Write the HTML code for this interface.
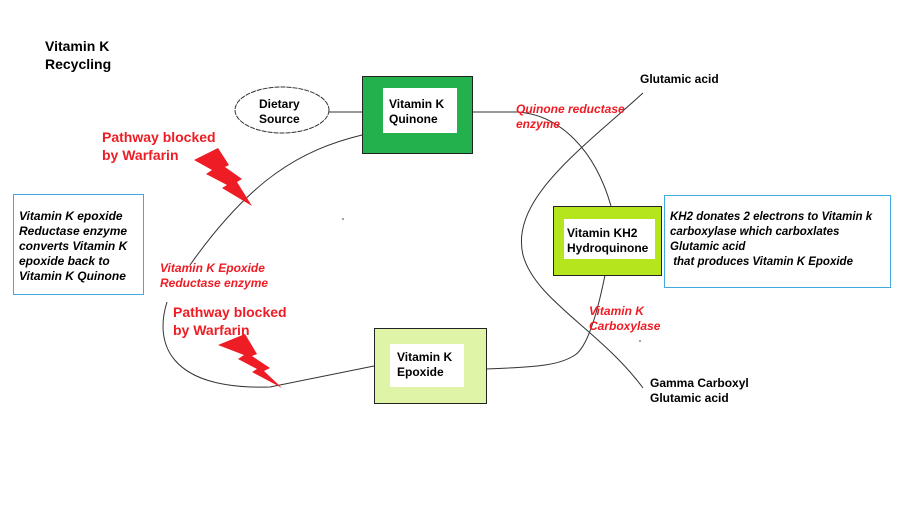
<!DOCTYPE html>
<html><head><style>
body{margin:0;background:#fff;width:921px;height:518px;overflow:hidden;position:relative;font-family:"Liberation Sans",Arial,sans-serif}
.t{position:absolute;font-size:12px;font-weight:bold;line-height:15px;white-space:nowrap}
.r{color:#ee1c24}
.i{font-style:italic}
</style></head><body>
<svg width="921" height="518" style="position:absolute;left:0;top:0">
<g fill="none" stroke="#333" stroke-width="1">
<line x1="329" y1="112" x2="362" y2="112"/>
<path d="M472,112 L518,112 C560,115 595,150 611,206"/>
<path d="M362,135 C300,150 250,180 190,265"/>
<path d="M167,302 C155,340 165,390 270,387 L374,366"/>
<path d="M486,369 C540,367 560,365 575,355 C590,345 600,300 605,275"/>
<path d="M643,93 C580,150 510,200 523,255 C535,300 600,330 643,388"/>
</g>
<ellipse cx="282" cy="110" rx="47" ry="23" fill="#fff" stroke="#333" stroke-dasharray="5,1"/>
<rect x="362.5" y="76.5" width="110" height="77" fill="#22b14c" stroke="#222"/>
<rect x="383" y="88" width="74" height="45" fill="#fff"/>
<rect x="553.5" y="206.5" width="108" height="69" fill="#b5e61d" stroke="#222"/>
<rect x="564" y="219" width="91" height="40" fill="#fff"/>
<rect x="374.5" y="328.5" width="112" height="75" fill="#e0f4a8" stroke="#222"/>
<rect x="390" y="344" width="74" height="43" fill="#fff"/>
<rect x="13.5" y="194.5" width="130" height="100" fill="#fff" stroke="#3fa9e0"/>
<rect x="664.5" y="195.5" width="226" height="92" fill="#fff" stroke="#3fa9e0"/>
<polygon fill="#ee1c24" points="194,160 218,148 229,165 225,167 242,179 237,182 252,206 222,188 227,185 206,174 212,170"/>
<polygon fill="#ee1c24" points="218,345 245,334 257,354 252,356 270,368 264,371 282,388 252,372 257,369 238,359 244,355"/>
<circle cx="343" cy="219" r="0.8" fill="#333"/>
<circle cx="640" cy="341" r="0.8" fill="#333"/>
</svg>
<div class="t" style="left:45px;top:37px;font-size:14px;line-height:18px">Vitamin K<br>Recycling</div>
<div class="t" style="left:259px;top:97px">Dietary<br>Source</div>
<div class="t" style="left:389px;top:97px">Vitamin K<br>Quinone</div>
<div class="t" style="left:567px;top:226px">Vitamin KH2<br>Hydroquinone</div>
<div class="t" style="left:397px;top:350px">Vitamin K<br>Epoxide</div>
<div class="t" style="left:640px;top:72px">Glutamic acid</div>
<div class="t" style="left:650px;top:376px">Gamma Carboxyl<br>Glutamic acid</div>
<div class="t r i" style="left:516px;top:102px">Quinone reductase<br>enzyme</div>
<div class="t r i" style="left:589px;top:304px">Vitamin K<br>Carboxylase</div>
<div class="t r i" style="left:160px;top:261px">Vitamin K Epoxide<br>Reductase enzyme</div>
<div class="t r" style="left:102px;top:128px;font-size:14px;line-height:18px">Pathway blocked<br>by Warfarin</div>
<div class="t r" style="left:173px;top:303px;font-size:14px;line-height:18px">Pathway blocked<br>by Warfarin</div>
<div class="t i" style="left:19px;top:209px;font-size:12px">Vitamin K epoxide<br>Reductase enzyme<br>converts Vitamin K<br>epoxide back to<br>Vitamin K Quinone</div>
<div class="t i" style="left:670px;top:210px;font-size:11.5px">KH2 donates 2 electrons to Vitamin k<br>carboxylase which carboxlates<br>Glutamic acid<br>&nbsp;that produces Vitamin K Epoxide</div>
</body></html>
